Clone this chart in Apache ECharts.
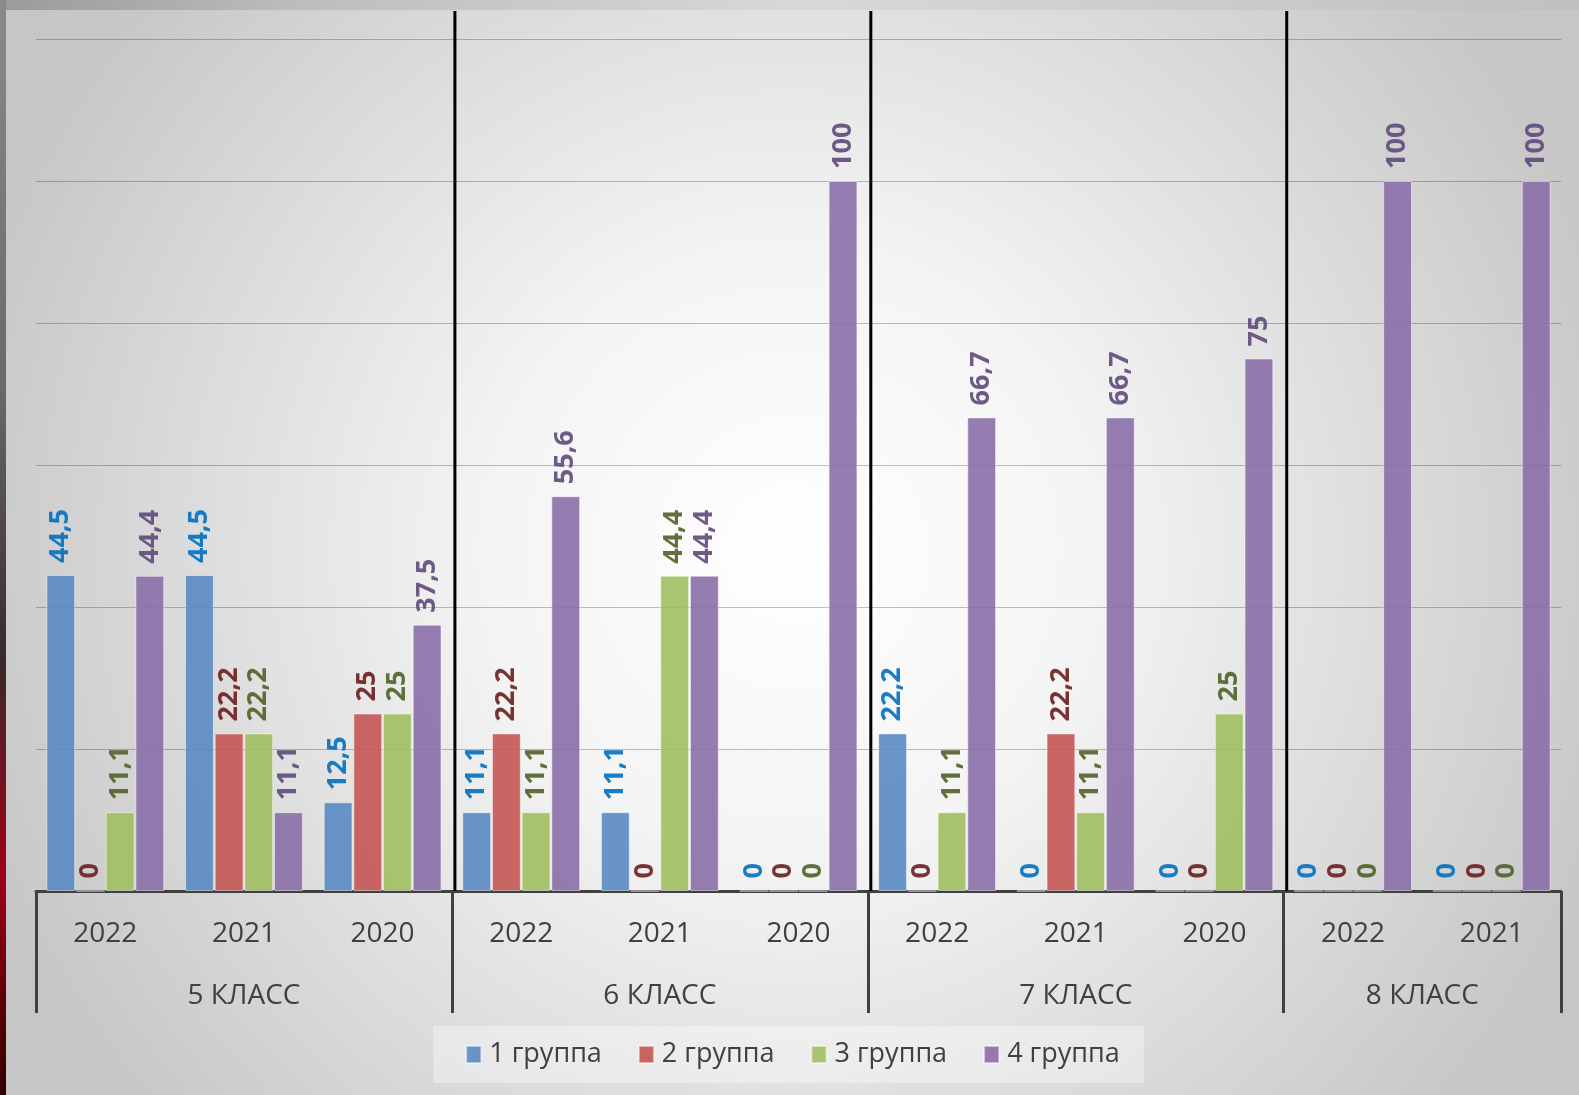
<!DOCTYPE html>
<html>
<head>
<meta charset="utf-8">
<script src="https://cdn.jsdelivr.net/npm/echarts@6/dist/echarts.min.js"></script>
<style>
  html, body { margin: 0; padding: 0; width: 1579px; height: 1095px; overflow: hidden; }
  body { background: linear-gradient(90deg, #9a9a9a 0px, #bdbdbd 300px, #d8d8d8 800px, #c0c0c0 1579px); position: relative; }
  #leftstrip { position: absolute; left: 0; top: 0; width: 6px; height: 1095px;
    background: linear-gradient(180deg, #8a8a8a 0%, #6a6a6a 35%, #3a2a2a 60%, #a00018 80%, #5a0008 92%, #300 100%); }
  #chart { position: absolute; left: 6px; top: 10px; width: 1573px; height: 1085px; }
</style>
</head>
<body>
<div id="leftstrip"></div>
<div id="chart"></div>
<script>
const categories = ['2022', '2021', '2020', '2022', '2021', '2020', '2022', '2021', '2020', '2022', '2021'];
const classNames = ['5 КЛАСС', '6 КЛАСС', '7 КЛАСС', '8 КЛАСС'];
const classBoundaries = [0, 3, 6, 9, 11];
const classCenters = [1.5, 4.5, 7.5, 10];
const seriesNames = ['1 группа', '2 группа', '3 группа', '4 группа'];
const group1 = [44.5, 44.5, 12.5, 11.1, 11.1, 0, 22.2, 0, 0, 0, 0];
const group2 = [0, 22.2, 25, 22.2, 0, 0, 0, 22.2, 0, 0, 0];
const group3 = [11.1, 22.2, 25, 11.1, 44.4, 0, 11.1, 11.1, 25, 0, 0];
const group4 = [44.4, 11.1, 37.5, 55.6, 44.4, 100, 66.7, 66.7, 75, 100, 100];
const yTicks = [0, 20, 40, 60, 80, 100, 120];

const barColors = ['#5a89c2', '#c45653', '#a0bf60', '#8a6fa8'];
const labelColors = ['#0070c0', '#6b1d1d', '#4f6228', '#5f497a'];
const allData = [group1, group2, group3, group4];

const chart = echarts.init(document.getElementById('chart'));
const fontFam = '"Open Sans", "DejaVu Sans", sans-serif';

const series = allData.map((d, i) => ({
  name: seriesNames[i],
  type: 'bar',
  data: d,
  barGap: '3%',
  barCategoryGap: '15%',
  itemStyle: { color: barColors[i], opacity: 0.9, borderColor: 'rgba(255,255,255,0.55)', borderWidth: 1 },
  label: {
    show: true,
    position: 'top',
    rotate: 90,
    align: 'left',
    verticalAlign: 'middle',
    distance: 12,
    color: labelColors[i],
    fontFamily: fontFam,
    fontWeight: 'bold',
    fontSize: 27,
    formatter: p => String(p.value).replace('.', ',')
  }
}));

const classLabelMap = {};
classCenters.forEach((c, i) => { classLabelMap[c] = classNames[i]; });

chart.setOption({
  animation: false,
  backgroundColor: {
    type: 'radial', x: 0.5, y: 0.5, r: 0.8,
    colorStops: [
      { offset: 0, color: '#ffffff' },
      { offset: 0.35, color: '#f4f4f4' },
      { offset: 1, color: '#c6c6c6' }
    ]
  },
  grid: { left: 30, right: 18, top: 29, bottom: 204, containLabel: false },
  legend: {
    bottom: 12,
    left: 'center',
    itemWidth: 15,
    itemHeight: 17,
    itemGap: 36,
    icon: 'rect',
    padding: [15, 24, 15, 32],
    backgroundColor: 'rgba(255,255,255,0.35)',
    textStyle: { fontSize: 27, color: '#404040', fontFamily: fontFam, padding: [0, 0, 0, 3] },
    data: seriesNames
  },
  xAxis: [
    {
      type: 'category',
      data: categories,
      position: 'bottom',
      axisLine: { show: true, lineStyle: { color: '#404040', width: 3 } },
      axisTick: { show: false },
      axisLabel: { color: '#404040', fontSize: 28, fontFamily: fontFam, margin: 29 },
      splitLine: { show: false }
    },
    {
      type: 'value',
      min: 0,
      max: 11,
      position: 'bottom',
      offset: 0,
      axisLine: { show: false },
      splitLine: { show: false },
      axisTick: { show: true, customValues: classBoundaries, length: 122, lineStyle: { color: '#404040', width: 3 } },
      axisLabel: {
        show: true,
        customValues: classCenters,
        margin: 91,
        color: '#404040',
        fontSize: 28,
        fontFamily: fontFam,
        formatter: v => classLabelMap[v] || ''
      }
    }
  ],
  yAxis: {
    type: 'value',
    min: 0,
    max: 120,
    interval: 20,
    axisLabel: { show: false },
    axisLine: { show: false },
    axisTick: { show: false },
    splitLine: { show: true, lineStyle: { color: 'rgba(0,0,0,0.25)', width: 1 } }
  },
  series: series
});

// separator lines between classes
const y0 = chart.convertToPixel({ yAxisIndex: 0 }, 0);
const seps = [3, 6, 9].map(v => {
  const x = chart.convertToPixel({ xAxisIndex: 1 }, v) + 3;
  return { type: 'line', z: 10, shape: { x1: x, y1: 1, x2: x, y2: y0 }, style: { stroke: '#000', lineWidth: 3 } };
});
chart.setOption({ graphic: seps });
</script>
</body>
</html>
